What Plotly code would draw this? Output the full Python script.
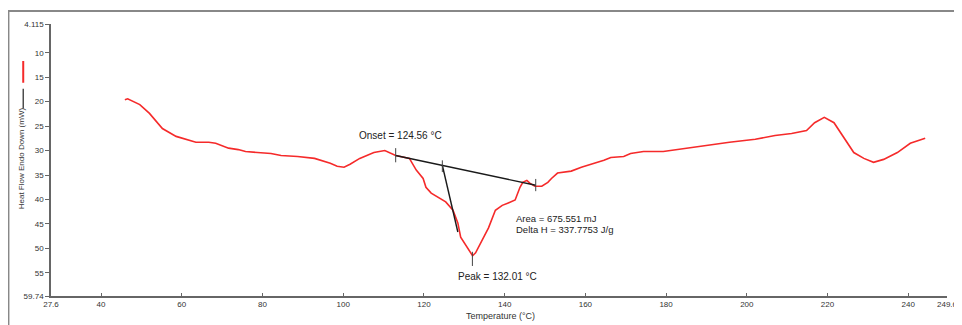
import plotly.graph_objects as go

# ---- data ----
temp_c = [45.9, 46.6, 49.6, 52.0, 55.2, 58.6, 63.5, 66.7, 68.4, 71.6, 74.0, 75.8,
          82.1, 84.6, 88.7, 92.9, 96.8, 98.5, 100.2, 101.7, 104.1, 107.6, 110.3,
          112.0, 113.0, 116.4, 118.1, 119.8, 120.5, 121.8, 123.5, 125.4, 127.2,
          128.4, 129.1, 130.3, 132.05, 132.8, 134.5, 136.0, 137.7, 139.4, 140.9,
          142.6, 143.8, 144.5, 145.5, 146.3, 147.5, 149.2, 150.7, 151.6, 153.1,
          156.5, 159.0, 164.6, 166.3, 169.5, 171.2, 174.4, 179.3, 184.9, 190.8,
          195.7, 202.1, 207.0, 211.1, 213.1, 214.8, 216.8, 219.2, 221.6, 224.1,
          226.5, 229.0, 231.4, 233.9, 237.3, 240.5, 244.2]
heat_flow = [19.6, 19.4, 20.6, 22.4, 25.5, 27.1, 28.3, 28.3, 28.5, 29.5, 29.8, 30.2,
             30.6, 31.0, 31.2, 31.6, 32.6, 33.2, 33.4, 32.8, 31.6, 30.4, 30.0,
             30.6, 31.0, 31.6, 34.0, 35.7, 37.5, 38.7, 39.5, 40.5, 42.2,
             44.8, 47.7, 49.3, 51.5, 50.9, 48.3, 45.8, 42.2, 41.2, 40.7,
             40.1, 37.5, 36.5, 36.1, 36.7, 37.3, 37.3, 36.5, 35.7, 34.6,
             34.2, 33.4, 32.0, 31.4, 31.2, 30.6, 30.2, 30.2, 29.5, 28.9,
             28.3, 27.7, 26.9, 26.5, 26.1, 25.9, 24.3, 23.2, 24.3, 27.3,
             30.4, 31.6, 32.4, 31.8, 30.4, 28.5, 27.5]

baseline_x = [113.0, 147.7]
baseline_y = [31.0, 37.1]
onset_x = 124.56
onset_y = 33.0
tangent_end = [128.4, 46.65]
peak_x = 132.01

x_tickvals = [27.6, 40, 60, 80, 100, 120, 140, 160, 180, 200, 220, 240, 249.6]
x_ticktext = ["27.6", "40", "60", "80", "100", "120", "140", "160", "180", "200", "220", "240", "249.6"]
y_tickvals = [4.115, 10, 15, 20, 25, 30, 35, 40, 45, 50, 55, 59.74]
y_ticktext = ["4.115", "10", "15", "20", "25", "30", "35", "40", "45", "50", "55", "59.74"]

FONT = "Arial, Liberation Sans, sans-serif"
RED = "#f52a2a"

fig = go.Figure()
fig.add_trace(go.Scatter(x=temp_c, y=heat_flow, mode="lines",
                         line=dict(color=RED, width=1.6), hoverinfo="skip"))
# baseline
fig.add_trace(go.Scatter(x=baseline_x, y=baseline_y, mode="lines",
                         line=dict(color="#1a1a1a", width=1.4), hoverinfo="skip"))
# tangent
fig.add_trace(go.Scatter(x=[onset_x, tangent_end[0]], y=[onset_y, tangent_end[1]], mode="lines",
                         line=dict(color="#1a1a1a", width=1.4), hoverinfo="skip"))

# small vertical tick marks
tick_marks = [(baseline_x[0], 29.5, 32.4), (baseline_x[1], 35.8, 38.3),
              (onset_x, 32.0, 34.4), (peak_x, 50.7, 53.6)]
for tx, y0, y1 in tick_marks:
    fig.add_trace(go.Scatter(x=[tx, tx], y=[y0, y1], mode="lines",
                             line=dict(color="#444", width=1), hoverinfo="skip"))

ann_font = dict(family=FONT, size=10, color="#222")
small_font = dict(family=FONT, size=9.5, color="#222")
fig.add_annotation(x=103.4, y=26.9, text="Onset = 124.56 °C", showarrow=False,
                   xanchor="left", yanchor="middle", font=ann_font)
fig.add_annotation(x=127.9, y=55.8, text="Peak = 132.01 °C", showarrow=False,
                   xanchor="left", yanchor="middle", font=ann_font)
fig.add_annotation(x=142.6, y=43.85, text="Area = 675.551 mJ", showarrow=False,
                   xanchor="left", yanchor="middle", font=small_font, borderpad=0)
fig.add_annotation(x=142.6, y=46.2, text="Delta H = 337.7753 J/g", showarrow=False,
                   xanchor="left", yanchor="middle", font=small_font, borderpad=0)

# axis titles
fig.add_annotation(xref="paper", yref="paper", x=0.502, y=-0.073,
                   text="Temperature (°C)", showarrow=False,
                   xanchor="center", yanchor="middle",
                   font=dict(family=FONT, size=9, color="#333"))
fig.add_annotation(xref="paper", yref="paper", x=-0.033, y=0.508,
                   text="Heat Flow Endo Down (mW)", showarrow=False, textangle=-90,
                   xanchor="center", yanchor="middle",
                   font=dict(family=FONT, size=8, color="#333"))
# legend-like marks beside the y title
fig.add_shape(type="line", xref="paper", yref="paper", x0=-0.031, x1=-0.031,
              y0=0.784, y1=0.864, line=dict(color=RED, width=2))
fig.add_shape(type="line", xref="paper", yref="paper", x0=-0.031, x1=-0.031,
              y0=0.689, y1=0.762, line=dict(color="#333", width=1.3))
# outer frame
fig.add_shape(type="rect", xref="paper", yref="paper", x0=-0.0475, x1=1.5,
              y0=-1.0, y1=1.0476, line=dict(color="#888", width=2), layer="below")

# the page places the figure 8px from the top-left corner; margins compensate
fig.update_layout(
    width=962, height=325,
    margin=dict(l=43, r=13, t=15, b=37),
    paper_bgcolor="white", plot_bgcolor="white",
    showlegend=False,
    font=dict(family=FONT, size=8, color="#333"),
    xaxis=dict(range=[27.6, 249.6], tickvals=x_tickvals, ticktext=x_ticktext,
               showgrid=False, zeroline=False, showline=True, linecolor="#666",
               linewidth=1.5, ticks="inside", ticklen=3, tickcolor="#666",
               tickfont=dict(family=FONT, size=8, color="#333")),
    yaxis=dict(range=[59.74, 4.115], tickvals=y_tickvals, ticktext=y_ticktext,
               showgrid=False, zeroline=False, showline=True, linecolor="#666",
               linewidth=1.5, ticks="outside", ticklen=4, tickcolor="#666",
               tickfont=dict(family=FONT, size=8, color="#333")),
)

fig.write_html("out.html")
